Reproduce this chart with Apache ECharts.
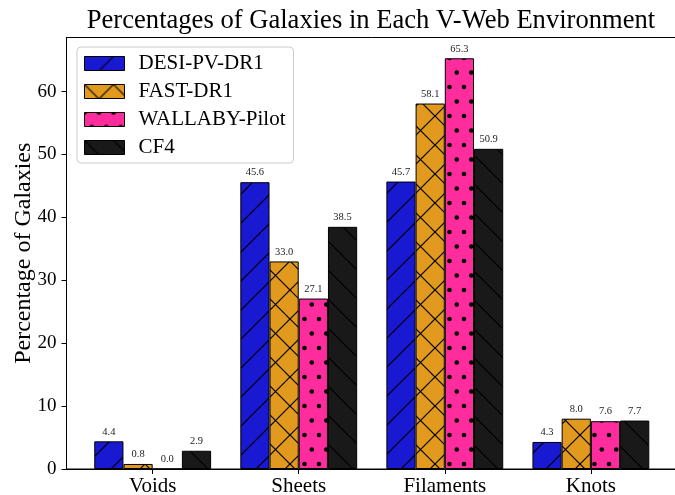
<!DOCTYPE html>
<html>
<head>
<meta charset="utf-8">
<script src="https://cdn.jsdelivr.net/npm/echarts@6/dist/echarts.min.js"></script>
<style>
  html, body { margin: 0; padding: 0; background: #fff; }
  #chart { width: 675px; height: 495px; }
</style>
</head>
<body>
<div id="chart"></div>
<script>
// V-Web environment classes and the share of galaxies (%) per survey
const categories = ['Voids', 'Sheets', 'Filaments', 'Knots'];
const surveyNames = ['DESI-PV-DR1', 'FAST-DR1', 'WALLABY-Pilot', 'CF4'];
const desiValues = [4.4, 45.6, 45.7, 4.3];
const fastValues = [0.8, 33.0, 58.1, 8.0];
const wallabyValues = [0.0, 27.1, 65.3, 7.6];
const cf4Values = [2.9, 38.5, 50.9, 7.7];
const yTickValues = [0, 10, 20, 30, 40, 50, 60];

const SERIF = "'Liberation Serif', 'DejaVu Serif', serif";

// Filled tile with a hatch drawn on top, used as a repeating fill
function hatchFill(fill, kind) {
  const s = 29;
  const c = document.createElement('canvas');
  c.width = s; c.height = s;
  const g = c.getContext('2d');
  g.fillStyle = fill;
  g.fillRect(0, 0, s, s);
  g.strokeStyle = '#000';
  g.fillStyle = '#000';
  g.lineWidth = 1.2;
  const line = (x0, y0, x1, y1) => {
    for (const o of [-s, 0, s]) {
      g.beginPath(); g.moveTo(x0 + o, y0); g.lineTo(x1 + o, y1); g.stroke();
    }
  };
  if (kind === '/' || kind === 'x') line(0, s, s, 0);
  if (kind === '\\' || kind === 'x') line(0, 0, s, s);
  if (kind === '.') {
    const pts = [[0, 0], [s / 2, 0], [s / 4, s / 2], [3 * s / 4, s / 2]];
    for (const [px, py] of pts) {
      for (const dx of [-s, 0, s]) for (const dy of [-s, 0, s]) {
        g.beginPath(); g.arc(px + dx, py + dy, 2.3, 0, Math.PI * 2); g.fill();
      }
    }
  }
  return { image: c, repeat: 'repeat' };
}

const fills = [
  hatchFill('rgb(25,25,210)', '/'),
  hatchFill('rgb(225,154,30)', 'x'),
  hatchFill('rgb(255,44,158)', '.'),
  hatchFill('rgb(25,25,25)', '\\')
];
const allValues = [desiValues, fastValues, wallabyValues, cf4Values];

const BAR_STEP = 0.2;
const series = surveyNames.map((name, k) => ({
  name,
  type: 'bar',
  barWidth: 29.2,
  barGap: '-100%',
  data: allValues[k].map((v, i) => [i + (k - 1.5) * BAR_STEP, v]),
  itemStyle: { color: fills[k], borderColor: '#000', borderWidth: 1 },
  label: {
    show: true,
    position: 'top',
    distance: 4,
    fontFamily: SERIF,
    fontSize: 10.5,
    color: '#222',
    formatter: p => p.value[1].toFixed(1)
  },
  emphasis: { disabled: true }
}));

const chart = echarts.init(document.getElementById('chart'), null, { renderer: 'canvas' });
chart.setOption({
  animation: false,
  backgroundColor: '#fff',
  title: {
    text: 'Percentages of Galaxies in Each V-Web Environment',
    left: 371,
    top: 8,
    padding: 0,
    textAlign: 'center',
    textStyle: { fontFamily: SERIF, fontSize: 26.6, fontWeight: 'normal', color: '#000' }
  },
  legend: {
    orient: 'vertical',
    left: 77,
    top: 47,
    padding: [6, 8, 5, 7],
    itemWidth: 40,
    itemHeight: 14,
    itemGap: 7,
    icon: 'rect',
    backgroundColor: 'rgba(255,255,255,0.8)',
    borderColor: '#cccccc',
    borderWidth: 1,
    borderRadius: 4,
    itemStyle: { borderColor: '#000', borderWidth: 1 },
    textStyle: { fontFamily: SERIF, fontSize: 21, color: '#000', lineHeight: 18, padding: [0, 0, 0, 9] },
    data: surveyNames
  },
  grid: {
    left: 66.5,
    top: 37.5,
    width: 612,
    height: 431.5,
    containLabel: false,
    outerBoundsMode: 'none',
    show: true,
    borderColor: '#000',
    borderWidth: 1
  },
  xAxis: {
    type: 'value',
    min: -0.59,
    max: 3.60,
    splitLine: { show: false },
    axisLine: { show: true, onZero: false, lineStyle: { color: '#000', width: 1 } },
    axisTick: { show: true, length: 5, inside: false, customValues: [0, 1, 2, 3], lineStyle: { color: '#000', width: 1 } },
    axisLabel: {
      customValues: [0, 1, 2, 3],
      formatter: v => categories[Math.round(v)],
      fontFamily: SERIF,
      fontSize: 21,
      color: '#000',
      margin: 7
    }
  },
  yAxis: {
    type: 'value',
    min: 0,
    max: 68.6,
    name: 'Percentage of Galaxies',
    nameLocation: 'middle',
    nameGap: 31,
    nameMoveOverlap: false,
    nameRotate: 90,
    nameTextStyle: { fontFamily: SERIF, fontSize: 24, color: '#000' },
    splitLine: { show: false },
    axisLine: { show: true, onZero: false, lineStyle: { color: '#000', width: 1 } },
    axisTick: { show: true, length: 5, inside: false, customValues: yTickValues, lineStyle: { color: '#000', width: 1 } },
    axisLabel: {
      customValues: yTickValues,
      fontFamily: SERIF,
      fontSize: 19,
      color: '#000',
      margin: 10
    }
  },
  series
});
</script>
</body>
</html>
